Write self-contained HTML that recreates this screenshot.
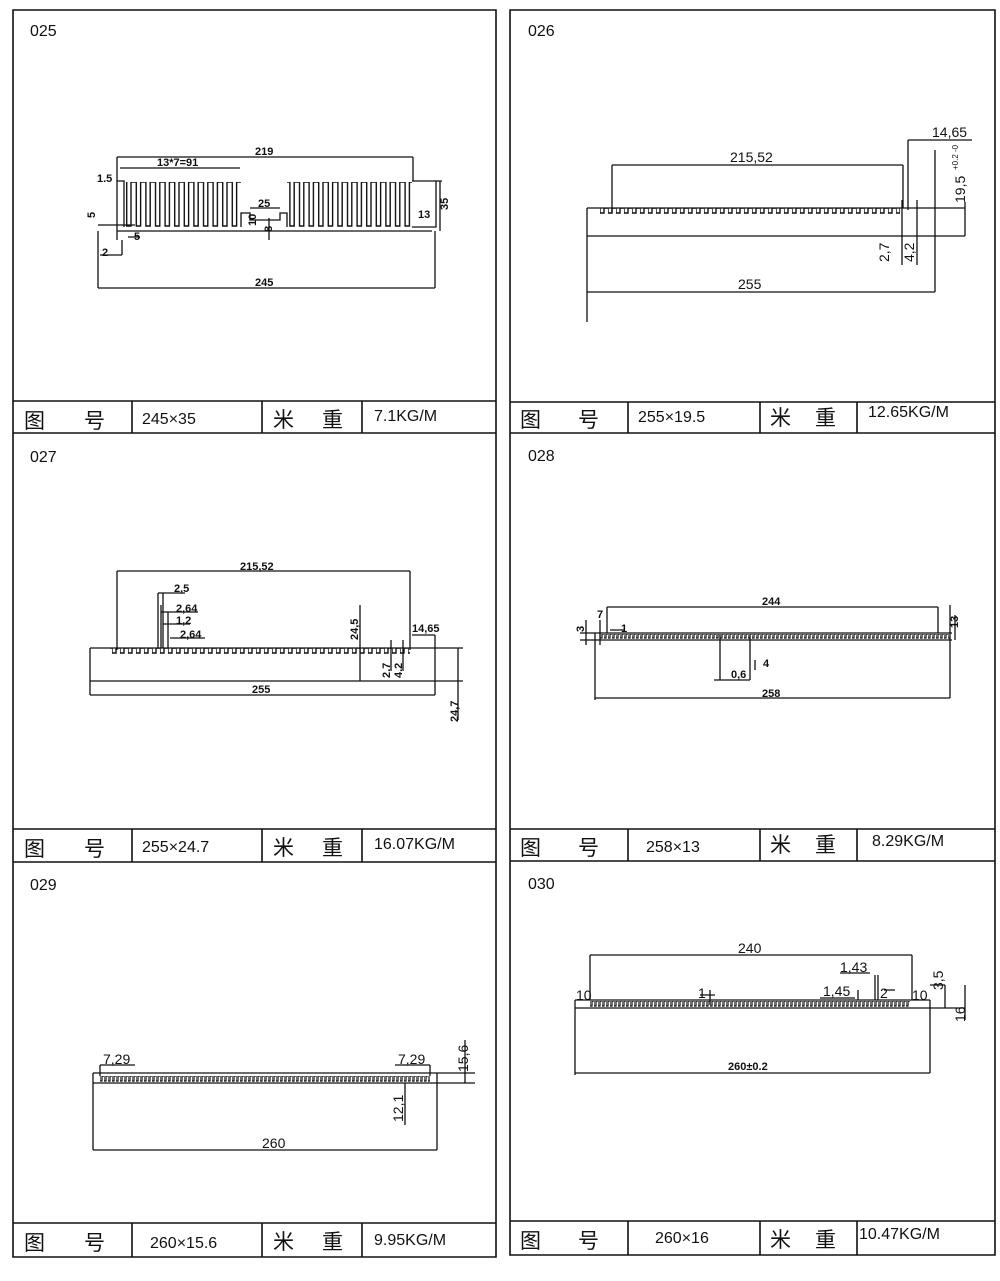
<!DOCTYPE html>
<html><head><meta charset="utf-8"><style>
html,body{margin:0;padding:0;background:#fff}
svg{display:block}
text{font-family:"Liberation Sans","Noto Sans CJK SC",sans-serif;fill:#111}
.cj{font-family:"Noto Sans CJK SC","WenQuanYi Zen Hei",sans-serif;font-size:21px}
.f{font-size:16px}
.d{font-size:11px;font-weight:bold}
.e{font-size:14px}
</style></head><body>
<svg width="1000" height="1281" viewBox="0 0 1000 1281" xmlns="http://www.w3.org/2000/svg">
<defs>
<pattern id="fin" x="126" y="182" width="9.6" height="45" patternUnits="userSpaceOnUse">
<path d="M0.7 0 V44 H5 V0 H9.6" fill="none" stroke="#111" stroke-width="1.4"/>
</pattern>
<pattern id="t8" x="600" y="208" width="8" height="8" patternUnits="userSpaceOnUse">
<path d="M0 0 V5 H4 V0 H8" fill="none" stroke="#111" stroke-width="1.4"/>
</pattern>
<pattern id="t4a" x="600" y="634" width="4" height="5" patternUnits="userSpaceOnUse">
<path d="M0 0 V4 H2 V0 H4" fill="none" stroke="#111" stroke-width="1.2"/>
</pattern>
<pattern id="t4b" x="100" y="1076" width="4" height="7" patternUnits="userSpaceOnUse">
<path d="M0 0 V5 H2 V0 H4" fill="none" stroke="#111" stroke-width="1.2"/>
</pattern>
<pattern id="t4c" x="590" y="1001" width="4" height="6" patternUnits="userSpaceOnUse">
<path d="M0 0 V5 H2 V0 H4" fill="none" stroke="#111" stroke-width="1.2"/>
</pattern>
</defs>
<g fill="none" stroke="#111" stroke-width="1.6">
<path d="M13 10 V1257 H496 V10 Z"/>
<path d="M510 10 V1255 H995 V10 Z"/>
<path d="M13 401 H496 M13 433 H496 M132 401 V433 M262 401 V433 M362 401 V433"/>
<path d="M13 829 H496 M13 862 H496 M132 829 V862 M262 829 V862 M362 829 V862"/>
<path d="M13 1223 H496 M132 1223 V1257 M262 1223 V1257 M362 1223 V1257"/>
<path d="M510 402 H995 M510 433 H995 M628 402 V433 M760 402 V433 M857 402 V433"/>
<path d="M510 829 H995 M510 861 H995 M628 829 V861 M760 829 V861 M857 829 V861"/>
<path d="M510 1221 H995 M628 1221 V1255 M760 1221 V1255 M857 1221 V1255"/>
</g>
<g stroke="#111" stroke-width="1.3" fill="none">
<!-- 025 -->
<rect x="126" y="182" width="115" height="45" fill="url(#fin)" stroke="none"/>
<rect x="287" y="182" width="125" height="45" fill="url(#fin)" stroke="none"/>
<path d="M117 240 V181 H124 V227 M117 231 H432 M412 181 H436 V227 H412"/>
<path d="M241 227 V213 H250 V220 H280 V213 H287 V227"/>
<path d="M117 157 V181 M413 157 V181 M117 157 H413 M120 168 H240 M98 225 H135 M98 231 V288 M98 288 H435 M435 231 V288 M122 240 V255 M100 255 H122 M128 237 H140 M436 181 H442 M440 181 V231 M269 218 V240 M250 208 H280"/>
<!-- 026 -->
<rect x="600" y="208" width="300" height="8" fill="url(#t8)" stroke="none"/>
<path d="M587 208 H935 M587 236 H965 M587 208 V322 M587 292 H935 M935 150 V292 M612 165 H903 M612 165 V212 M903 165 V208 M908 140 H965 M908 140 V210 M896 208 H965 M965 202 V236 M902 200 V265 M917 200 V265 M935 140 H972"/>
<!-- 027 -->
<rect x="110" y="648" width="300" height="8" fill="url(#t8)" stroke="none"/>
<path d="M90 648 H463 M90 681 H463 M90 648 V695 M90 695 H435 M435 648 V695 M117 571 V650 M117 571 H410 M410 571 V650 M158 593 V648 M163 593 V648 M161 605 V648 M168 612 V648 M158 593 H185 M161 612 H198 M163 624 H190 M170 638 H205 M360 605 V681 M412 635 H435 M435 635 V650 M391 640 V670 M403 640 V670 M458 648 V720"/>
<!-- 028 -->
<rect x="600" y="634" width="350" height="5" fill="url(#t4a)" stroke="none"/>
<path d="M595 633 H952 M595 640 H952 M595 633 V700 M595 698 H950 M950 605 V698 M607 607 H938 M607 607 V633 M938 607 V633 M580 633 H600 M580 640 H600 M586 620 V645 M600 620 V645 M610 630 H625 M720 635 V680 M750 635 V680 M755 660 V670 M714 680 H750 M955 615 V640"/>
<!-- 029 -->
<rect x="100" y="1076" width="330" height="7" fill="url(#t4b)" stroke="none"/>
<path d="M93 1073 H437 M93 1083 H475 M93 1073 V1150 M93 1150 H437 M437 1073 V1150 M100 1065 V1076 M100 1065 H135 M430 1065 V1076 M395 1065 H430 M405 1083 V1125 M465 1040 V1083 M437 1073 H475"/>
<!-- 030 -->
<rect x="590" y="1001" width="320" height="6" fill="url(#t4c)" stroke="none"/>
<path d="M575 1000 H930 M575 1008 H965 M575 1000 V1075 M575 1073 H930 M930 1000 V1073 M590 955 H912 M590 955 V1000 M912 955 V1000 M840 973 H870 M875 975 V1000 M878 975 V1000 M884 990 H895 M930 985 H945 M945 985 V1008 M965 985 V1020 M700 995 H715 M710 990 V1005 M820 998 H855 M858 990 V1000"/>
</g>
<text class="f" x="30" y="36">025</text>
<text class="f" x="528" y="36">026</text>
<text class="f" x="30" y="462">027</text>
<text class="f" x="528" y="461">028</text>
<text class="f" x="30" y="890">029</text>
<text class="f" x="528" y="889">030</text>

<text class="cj" x="24" y="428">图</text><text class="cj" x="84" y="428">号</text>
<text class="f" x="142" y="424">245×35</text>
<text class="cj" x="273" y="427">米</text><text class="cj" x="322" y="427">重</text>
<text class="f" x="374" y="421">7.1KG/M</text>
<text class="cj" x="520" y="427">图</text><text class="cj" x="578" y="427">号</text>
<text class="f" x="638" y="422">255×19.5</text>
<text class="cj" x="770" y="425">米</text><text class="cj" x="815" y="425">重</text>
<text class="f" x="868" y="417">12.65KG/M</text>

<text class="cj" x="24" y="856">图</text><text class="cj" x="84" y="856">号</text>
<text class="f" x="142" y="852">255×24.7</text>
<text class="cj" x="273" y="855">米</text><text class="cj" x="322" y="855">重</text>
<text class="f" x="374" y="849">16.07KG/M</text>
<text class="cj" x="520" y="855">图</text><text class="cj" x="578" y="855">号</text>
<text class="f" x="646" y="852">258×13</text>
<text class="cj" x="770" y="852">米</text><text class="cj" x="815" y="852">重</text>
<text class="f" x="872" y="846">8.29KG/M</text>

<text class="cj" x="24" y="1250">图</text><text class="cj" x="84" y="1250">号</text>
<text class="f" x="150" y="1248">260×15.6</text>
<text class="cj" x="273" y="1249">米</text><text class="cj" x="322" y="1249">重</text>
<text class="f" x="374" y="1245">9.95KG/M</text>
<text class="cj" x="520" y="1248">图</text><text class="cj" x="578" y="1248">号</text>
<text class="f" x="655" y="1243">260×16</text>
<text class="cj" x="770" y="1247">米</text><text class="cj" x="815" y="1247">重</text>
<text class="f" x="859" y="1239">10.47KG/M</text>

<text class="d" x="255" y="155">219</text>
<text class="d" x="157" y="166">13*7=91</text>
<text class="d" x="97" y="182">1.5</text>
<text class="d" x="258" y="207">25</text>
<text class="d" x="418" y="218">13</text>
<text class="d" x="134" y="240">5</text>
<text class="d" x="102" y="256">2</text>
<text class="d" x="255" y="286">245</text>
<text class="d" transform="translate(95 218) rotate(-90)">5</text>
<text class="d" transform="translate(448 210) rotate(-90)">35</text>
<text class="d" transform="translate(256 226) rotate(-90)">10</text>
<text class="d" transform="translate(272 232) rotate(-90)">8</text>
<text class="e" x="730" y="162">215,52</text>
<text class="e" x="932" y="137">14,65</text>
<text class="e" x="738" y="289">255</text>
<text class="e" transform="translate(965 203) rotate(-90)">19,5</text>
<text style="font-size:8px" transform="translate(958 170) rotate(-90)">+0.2 -0</text>
<text class="e" transform="translate(889 262) rotate(-90)">2,7</text>
<text class="e" transform="translate(914 262) rotate(-90)">4,2</text>
<text class="d" x="240" y="570">215,52</text>
<text class="d" x="174" y="592">2,5</text>
<text class="d" x="176" y="612">2,64</text>
<text class="d" x="176" y="624">1,2</text>
<text class="d" x="180" y="638">2,64</text>
<text class="d" x="412" y="632">14,65</text>
<text class="d" x="252" y="693">255</text>
<text class="d" transform="translate(358 640) rotate(-90)">24,5</text>
<text class="d" transform="translate(390 678) rotate(-90)">2,7</text>
<text class="d" transform="translate(402 678) rotate(-90)">4,2</text>
<text class="d" transform="translate(458 722) rotate(-90)">24,7</text>
<text class="d" x="762" y="605">244</text>
<text class="d" x="762" y="697">258</text>
<text class="d" x="597" y="618">7</text>
<text class="d" x="621" y="632">1</text>
<text class="d" x="731" y="678">0,6</text>
<text class="d" x="763" y="667">4</text>
<text class="d" transform="translate(958 628) rotate(-90)">13</text>
<text class="d" transform="translate(584 632) rotate(-90)">3</text>
<text class="e" x="103" y="1064">7,29</text>
<text class="e" x="398" y="1064">7,29</text>
<text class="e" x="262" y="1148">260</text>
<text class="e" transform="translate(403 1122) rotate(-90)">12,1</text>
<text class="e" transform="translate(468 1072) rotate(-90)">15,6</text>
<text class="e" x="738" y="953">240</text>
<text class="e" x="840" y="972">1,43</text>
<text class="e" x="823" y="996">1,45</text>
<text class="e" x="880" y="998">2</text>
<text class="e" x="576" y="1000">10</text>
<text class="e" x="912" y="1000">10</text>
<text class="e" x="698" y="998">1</text>
<text class="d" x="728" y="1070">260±0.2</text>
<text class="e" transform="translate(943 990) rotate(-90)">3,5</text>
<text class="e" transform="translate(965 1022) rotate(-90)">16</text>
</svg>
</body></html>
